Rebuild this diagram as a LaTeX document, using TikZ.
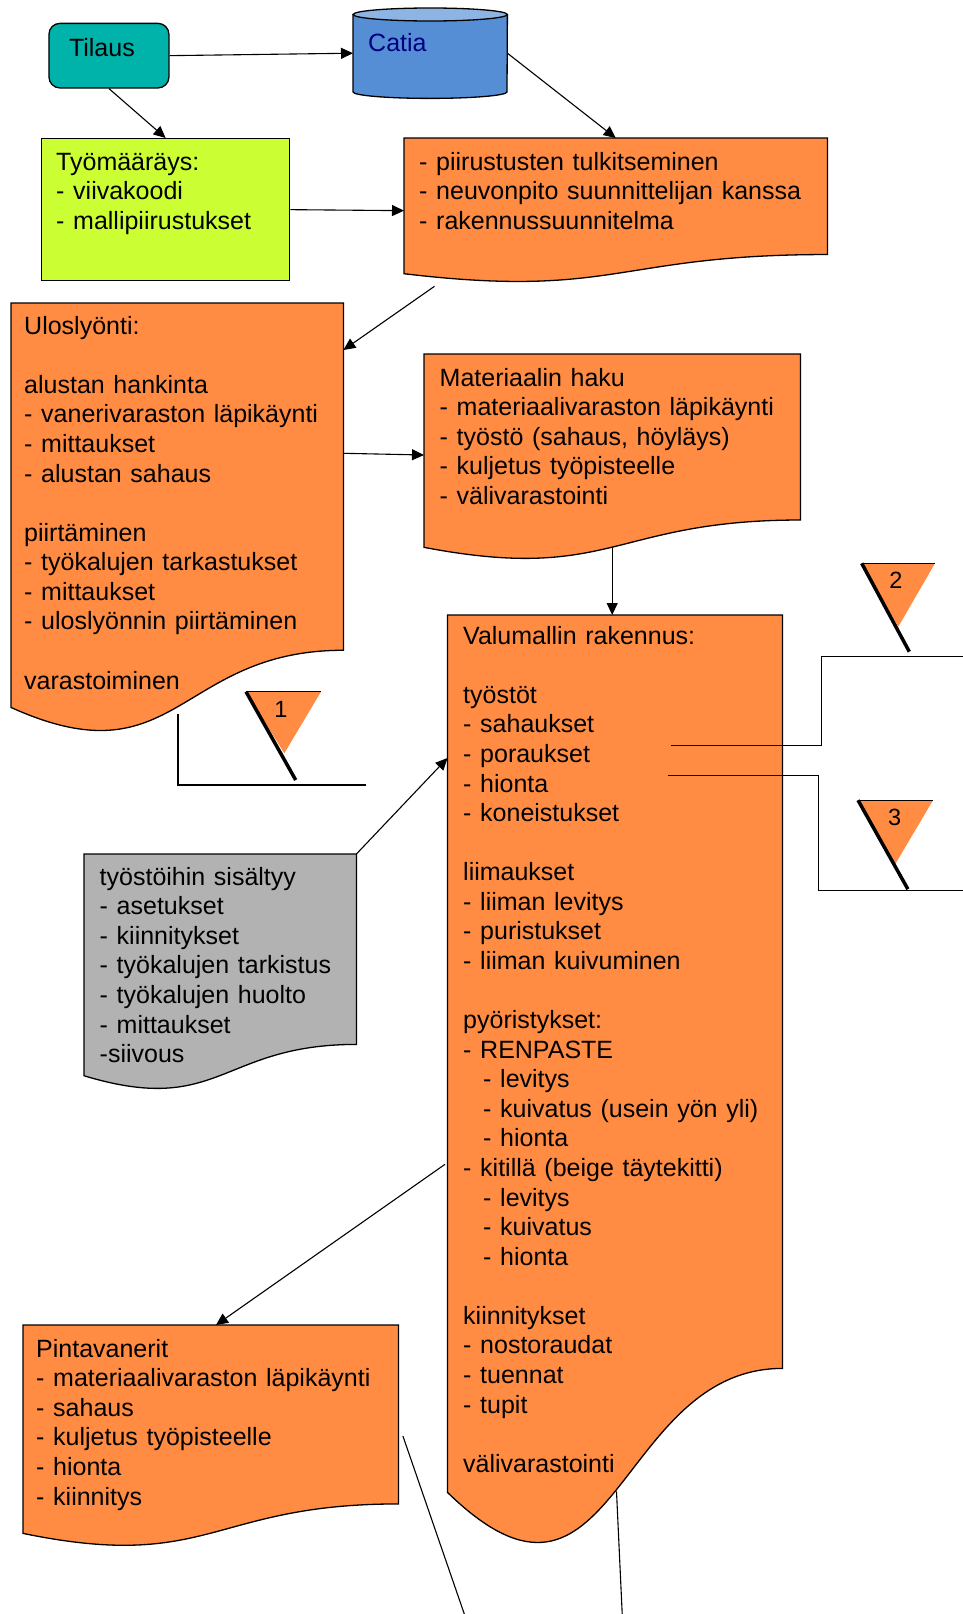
\documentclass[tikz,border=0pt]{standalone}
\usepackage{fontspec}
\setmainfont{Liberation Sans}[WordSpace=1.25]
\usetikzlibrary{arrows.meta,calc}

\definecolor{docorange}{RGB}{255,140,66}
\definecolor{tilausteal}{RGB}{0,179,170}
\definecolor{ordergreen}{RGB}{204,255,51}
\definecolor{notegray}{RGB}{178,178,178}
\definecolor{catiabody}{RGB}{85,142,213}
\definecolor{catiatop}{RGB}{142,180,227}
\definecolor{catiatext}{RGB}{0,0,128}

% flowchart "document" outline drawn over the frame of a named node
\newcommand\drawdoc[2]{%
  \path[outline,fill=#2] let \p1=(#1.north west), \p2=(#1.south east),
    \n1={\y1-\y2}, \n2={(\x1+\x2)/2} in
    (\p1) -- (\x2,\y1) -- (\x2,{\y1-0.802*\n1})
    .. controls (\n2,{\y1-0.802*\n1}) and (\n2,{\y1-1.1075*\n1})
    .. (\x1,{\y1-0.934*\n1}) -- cycle;}

\begin{document}
\begin{tikzpicture}[x=1pt,y=-1pt,
  conn/.style={line width=1.1pt,-{Triangle[length=12pt,width=11pt]}},
  plainline/.style={line width=1.1pt},
  outline/.style={draw=black,line width=1.3pt},
  frame/.style={draw=none,inner sep=0pt,anchor=north west},
  txt/.style={anchor=north west,inner sep=0pt,align=left,
    font=\fontsize{25}{29.57}\selectfont},
  numtxt/.style={anchor=base,inner sep=0pt,font=\fontsize{23.5}{28}\selectfont},
  thickleg/.style={line width=3.5pt},
  topedge/.style={line width=1.1pt},
]
\fill[white] (0,0) rectangle (963,1614);
\useasboundingbox (0,0) rectangle (963,1614);

% ---- frames of the boxes
\node[frame,outline,fill=tilausteal,rounded corners=11pt,
      minimum width=120pt,minimum height=64.6pt] (tilaus) at (48.3,22.7) {};
\node[frame,minimum width=154pt,minimum height=90pt] (catia) at (353,8) {};
\node[frame,outline,fill=ordergreen,
      minimum width=248pt,minimum height=142pt] (tyo) at (41,138) {};
\node[frame,minimum width=423pt,minimum height=144.9pt] (piir) at (404,138) {};
\node[frame,minimum width=332pt,minimum height=432.6pt] (ulos) at (11,303) {};
\node[frame,minimum width=376pt,minimum height=206.6pt] (mat) at (424,354) {};
\node[frame,minimum width=334.5pt,minimum height=939pt] (valu) at (447.5,615) {};
\node[frame,minimum width=272pt,minimum height=237pt] (gray) at (84,854) {};
\node[frame,minimum width=375pt,minimum height=222.7pt] (pinta) at (23,1325) {};

% ---- Catia cylinder
\path[outline,fill=catiabody] ($(catia.north west)+(0,6.5)$)
  -- ($(catia.south west)+(0,-6.5)$)
  arc[start angle=180,end angle=360,x radius=77pt,y radius=6.5pt]
  -- ($(catia.north east)+(0,6.5)$) -- cycle;
\path[outline,fill=catiatop] ($(catia.north)+(0,6.5)$)
  ellipse[x radius=77pt,y radius=6.5pt];

% ---- document shapes
\drawdoc{piir}{docorange}
\drawdoc{ulos}{docorange}
\drawdoc{mat}{docorange}
\drawdoc{valu}{docorange}
\drawdoc{gray}{notegray}
\drawdoc{pinta}{docorange}

% ---- texts
\node[txt] (tilaus-t) at ($(tilaus.north west)+(20.5,12.6)$) {\strut Tilaus};
\node[txt,text=catiatext] (catia-t) at ($(catia.north west)+(15,23)$) {\strut Catia};
\node[txt] (tyo-t) at ($(tyo.north west)+(15,11.3)$)
  {\strut Työmääräys:\\- viivakoodi\\- mallipiirustukset};
\node[txt] (piir-t) at ($(piir.north west)+(15,11.3)$)
  {\strut - piirustusten tulkitseminen\\- neuvonpito suunnittelijan kanssa\\- rakennussuunnitelma};
\node[txt] (ulos-t) at ($(ulos.north west)+(13,10.3)$)
  {\strut Uloslyönti:\\ \mbox{}\\alustan hankinta\\- vanerivaraston läpikäynti\\- mittaukset\\- alustan sahaus\\ \mbox{}\\piirtäminen\\- työkalujen tarkastukset\\- mittaukset\\- uloslyönnin piirtäminen\\ \mbox{}\\varastoiminen};
\node[txt] (mat-t) at ($(mat.north west)+(15.5,11.3)$)
  {\strut Materiaalin haku\\- materiaalivaraston läpikäynti\\- työstö (sahaus, höyläys)\\- kuljetus työpisteelle\\- välivarastointi};
\node[txt] (valu-t) at ($(valu.north west)+(15.5,8.3)$)
  {\strut Valumallin rakennus:\\ \mbox{}\\työstöt\\- sahaukset\\- poraukset\\- hionta\\- koneistukset\\ \mbox{}\\liimaukset\\- liiman levitys\\- puristukset\\- liiman kuivuminen\\ \mbox{}\\pyöristykset:\\- RENPASTE\\\hspace*{20pt}- levitys\\\hspace*{20pt}- kuivatus (usein yön yli)\\\hspace*{20pt}- hionta\\- kitillä (beige täytekitti)\\\hspace*{20pt}- levitys\\\hspace*{20pt}- kuivatus\\\hspace*{20pt}- hionta\\ \mbox{}\\kiinnitykset\\- nostoraudat\\- tuennat\\- tupit\\ \mbox{}\\välivarastointi};
\node[txt] (gray-t) at ($(gray.north west)+(15.5,10.3)$)
  {\strut työstöihin sisältyy\\- asetukset\\- kiinnitykset\\- työkalujen tarkistus\\- työkalujen huolto\\- mittaukset\\-siivous};
\node[txt] (pinta-t) at ($(pinta.north west)+(13,11.3)$)
  {\strut Pintavanerit\\- materiaalivaraston läpikäynti\\- sahaus\\- kuljetus työpisteelle\\- hionta\\- kiinnitys};

% ---- storage triangles
\coordinate (m1) at (246,691.7);
\coordinate (m2) at (861.7,563.3);
\coordinate (m3) at (858,800.2);
\fill[docorange] (m1) -- ++(75,0) -- ++(-36.7,61.6) -- cycle;
\fill[docorange] (m2) -- ++(73.3,0) -- ++(-36.7,63.4) -- cycle;
\fill[docorange] (m3) -- ++(75,0) -- ++(-37.7,63.8) -- cycle;
\draw[topedge] (m1) -- ++(75,0);
\draw[topedge] (m2) -- ++(73.3,0);
\draw[topedge] (m3) -- ++(75,0);
\draw[thickleg] (m1) -- ++(49.7,88.3);
\draw[thickleg] (m2) -- ++(47.6,88.4);
\draw[thickleg] (m3) -- ++(49.9,89);
\node[numtxt] (m1-t) at ($(m1)+(35,25.5)$) {1};
\node[numtxt] (m2-t) at ($(m2)+(34.3,25.5)$) {2};
\node[numtxt] (m3-t) at ($(m3)+(36.6,25.5)$) {3};

% ---- connectors
\draw[conn] (tilaus.east) -- (catia.west);
\draw[conn] (tilaus.south) -- (tyo.north);
\draw[conn] (catia.east) -- (piir.north);
\draw[conn] (tyo.east) -- (piir.west);
\draw[conn] ($(piir.south west)+(30.5,3)$) -- ($(ulos.north east)+(0,47)$);
\draw[conn] ($(ulos.north east)+(0,150.3)$) -- ($(mat.north west)+(0,101)$);
\coordinate (matout) at ($(mat.south)+(0,-14)$);
\draw[conn] (matout) -- (matout |- valu.north);
\draw[conn] (gray.north east) -- ($(valu.north west)+(0,143)$);
\draw[conn] ($(valu.north west)+(-2.5,549.3)$) -- ($(pinta.north west)+(193,0)$);

% ---- links to the storage marks and lines leaving the sheet
\coordinate (b2end) at (970,656.6);
\coordinate (b3end) at (970,890.2);
\coordinate (l1end) at (465,1616);
\coordinate (l2end) at (622.3,1616);
\draw[plainline] ($(valu.north west)+(223.5,130.6)$) -- (821.8,745.6) -- (821.8,656.6) -- (b2end);
\draw[plainline] ($(valu.north west)+(220,160.4)$) -- (818.9,775.4) -- (818.9,890.2) -- (b3end);
\draw[plainline] ($(ulos.south west)+(167,-21.6)$) -- (178,785) -- (366,785);
\draw[plainline] ($(pinta.north east)+(4.5,111)$) -- (l1end);
\draw[plainline] ($(valu.south west)+(169,-63)$) -- (l2end);
\end{tikzpicture}
\end{document}
